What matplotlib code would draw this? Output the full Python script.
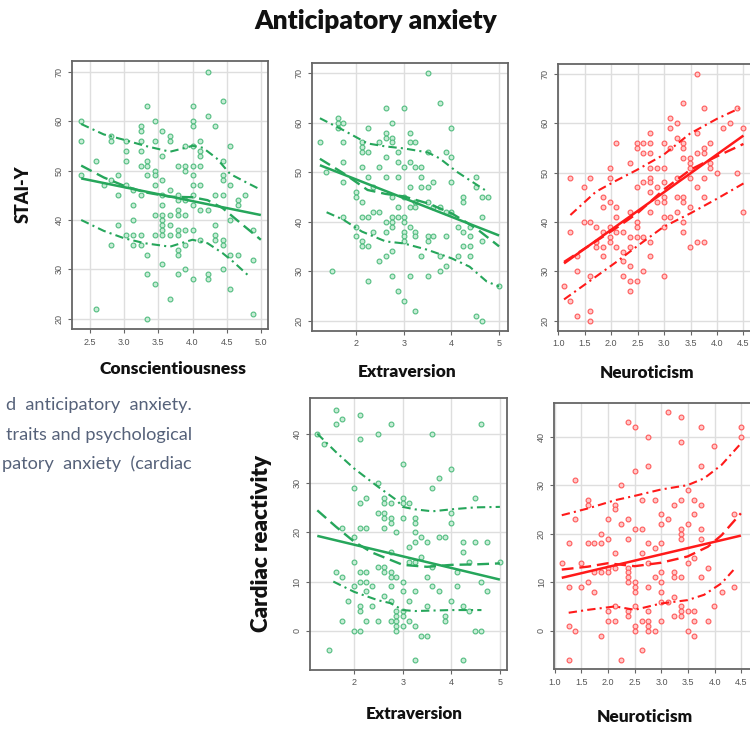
import matplotlib
matplotlib.use("Agg")
import matplotlib.pyplot as plt
import numpy as np

# ---------------- DATA ----------------
# Panel 1: STAI-Y vs Conscientiousness (green)
consc_levels = [2.37, 2.58, 2.70, 2.80, 2.91, 3.02, 3.13, 3.24, 3.34, 3.45, 3.56, 3.67,
                3.78, 3.89, 4.00, 4.11, 4.22, 4.33, 4.44, 4.55, 4.66, 4.77, 4.88]
stai_by_consc = [[60, 56, 49], [52, 22], [47], [57, 56, 48, 35], [49, 45, 39],
                 [56, 54, 52, 47, 37], [46, 43, 40, 37, 35], [59, 58, 56, 54, 51, 45, 37, 35],
                 [63, 52, 51, 49, 33, 29, 20], [60, 56, 50, 49, 47, 41, 37, 27],
                 [58, 53, 48, 45, 43, 41, 40, 39, 38, 37, 31], [57, 56, 46, 41, 39, 37, 24],
                 [51, 45, 44, 42, 41, 38, 37, 34, 33, 29], [55, 51, 50, 44, 41, 38, 35, 30],
                 [63, 60, 59, 55, 51, 49, 47, 45, 43, 38, 28], [56, 54, 53, 51, 47, 42, 36],
                 [70, 61, 42, 29, 28], [59, 45, 39, 37, 36], [64, 52, 49, 48, 45, 36, 35, 30],
                 [55, 47, 40, 33, 26], [44, 43, 33], [45], [38, 32, 21]]
consc_fit_x = [2.37, 5.0]
consc_fit_y = [48.4, 41.0]
consc_mean_x = [2.37, 2.7, 3.0, 3.3, 3.67, 4.0, 4.22, 4.44, 4.7, 5.0]
consc_mean_y = [51.0, 48.6, 46.9, 45.6, 44.7, 44.6, 44.0, 42.4, 39.4, 36.0]
consc_up_x = [2.37, 2.7, 3.0, 3.3, 3.67, 3.9, 4.0, 4.15, 4.35, 4.55, 4.8, 5.0]
consc_up_y = [59.4, 57.3, 56.2, 55.0, 53.8, 54.6, 55.0, 54.6, 52.5, 49.3, 47.5, 46.1]
consc_lo_x = [2.37, 2.7, 3.0, 3.3, 3.67, 3.9, 4.0, 4.22, 4.44, 4.6, 4.83]
consc_lo_y = [40.0, 37.8, 36.3, 35.3, 34.6, 35.6, 36.0, 35.3, 33.3, 31.5, 28.6]

# Panel 2: STAI-Y vs Extraversion (green)
extra_levels = [1.24, 1.36, 1.49, 1.62, 1.73, 2.00, 2.12, 2.24, 2.36, 2.49, 2.62, 2.75,
                2.87, 3.00, 3.12, 3.24, 3.37, 3.50, 3.62, 3.75, 3.88, 4.00, 4.13, 4.25,
                4.38, 4.51, 4.64, 4.76, 5.00]
stai_by_extra = [[56], [50], [30], [61, 60, 59], [60, 56, 52, 48, 41], [46, 45, 39, 37],
                 [56, 55, 54, 51, 44, 41, 36, 35], [59, 54, 49, 41, 35, 28], [47, 42, 38],
                 [56, 51, 42, 32], [63, 58, 57, 53, 49, 40, 38, 33],
                 [60, 57, 56, 45, 41, 40, 39, 34, 29], [54, 52, 49, 43, 41, 26],
                 [63, 51, 45, 41, 40, 38, 37, 36, 24], [58, 56, 52, 47, 43, 39, 29],
                 [56, 51, 44, 43, 38, 37, 22], [51, 49, 47, 33], [70, 54, 47, 44, 37, 36, 29],
                 [48, 43, 37], [64, 43, 33, 30], [54, 42, 37, 31], [59, 53, 48, 42], [39, 33],
                 [45, 44, 38, 35], [39, 37, 35, 33], [49, 47, 21], [45, 41, 36, 20], [45], [27]]
extra_fit_x = [1.24, 5.0]
extra_fit_y = [51.4, 37.2]
extra_mean_x = [1.24, 1.73, 2.24, 2.62, 3.0, 3.5, 4.0, 4.51, 5.0]
extra_mean_y = [52.7, 49.8, 46.4, 45.6, 45.1, 43.7, 41.7, 38.7, 35.0]
extra_up_x = [1.24, 1.73, 2.24, 2.62, 3.0, 3.5, 3.75, 4.11, 4.38, 4.7]
extra_up_y = [60.9, 58.5, 55.8, 55.2, 54.8, 54.0, 52.8, 50.1, 48.4, 46.4]
extra_lo_x = [1.38, 1.73, 2.12, 2.62, 3.0, 3.5, 4.0, 4.38, 4.74, 5.0]
extra_lo_y = [41.9, 40.4, 38.0, 36.0, 35.6, 34.3, 32.6, 30.9, 27.9, 26.9]

# Panel 3: STAI-Y vs Neuroticism (red)
neuro_levels = [1.11, 1.23, 1.35, 1.49, 1.60, 1.72, 1.85, 1.98, 2.10, 2.23, 2.36, 2.48,
                2.61, 2.73, 2.86, 2.99, 3.12, 3.24, 3.36, 3.49, 3.62, 3.75, 3.87, 4.00,
                4.12, 4.25, 4.37, 4.50]
stai_by_neuro = [[27], [49, 38, 24], [33, 30, 21], [47, 40], [49, 40, 29, 22, 20], [39, 36, 35],
                 [45, 43, 38, 35, 33], [51, 49, 44, 39, 37, 36], [56, 43, 41, 38, 35],
                 [38, 34, 32, 29], [52, 42, 37, 35, 31, 28, 26], [56, 55, 47, 40, 39, 37, 28],
                 [56, 54, 48, 37, 30], [58, 56, 54, 51, 49, 48, 46, 42, 36, 33], [51, 47, 44],
                 [56, 51, 48, 45, 44, 41, 39, 29], [61, 59, 55, 41], [60, 57, 49, 45, 42],
                 [64, 56, 55, 53, 45, 44, 40, 38], [53, 52, 51, 49, 43, 35], [70, 58, 54, 47, 36],
                 [63, 55, 54, 49, 45, 36], [56, 52, 51], [50], [59], [60], [63, 50], [59, 42]]
neuro_fit_x = [1.11, 4.5]
neuro_fit_y = [31.6, 57.5]
neuro_mean_x = [1.11, 1.7, 2.1, 2.5, 3.0, 3.5, 4.0, 4.5]
neuro_mean_y = [31.9, 36.0, 38.8, 41.8, 46.6, 50.6, 53.3, 55.8]
neuro_up_x = [1.23, 1.71, 2.1, 2.48, 2.99, 3.49, 4.0, 4.42]
neuro_up_y = [41.4, 46.1, 48.4, 50.5, 53.6, 57.9, 60.9, 63.0]
neuro_lo_x = [1.11, 1.71, 2.1, 2.48, 2.99, 3.49, 4.0, 4.5]
neuro_lo_y = [24.3, 28.9, 31.9, 35.0, 39.0, 41.7, 44.7, 47.8]

# Panel 4: Cardiac reactivity vs Extraversion (green)
extra2_levels = [1.24, 1.38, 1.49, 1.62, 1.74, 1.88, 2.00, 2.12, 2.24, 2.37, 2.49, 2.62,
                 2.75, 2.87, 3.00, 3.12, 3.25, 3.37, 3.50, 3.61, 3.74, 3.87, 3.99, 4.12,
                 4.24, 4.37, 4.49, 4.62, 4.74, 5.00]
card_by_extra = [[40], [38], [-4], [45, 42, 12], [43, 21, 11, 2], [6], [29, 19, 14, 9, 0],
                 [44, 39, 26, 21, 12, 10, 5, 4, 0], [27, 21, 12, 10, 8, 2], [9, 5],
                 [40, 30, 24, 13, 2], [27, 26, 24, 23, 21, 13, 12, 7],
                 [42, 26, 23, 22, 16, 12, 11, 9, 6, 2], [20, 11, 4, 3, 2, 1, 0],
                 [34, 27, 26, 23, 10, 8, 4, 3, 1], [26, 17, 14, 6, 2],
                 [23, 22, 20, 18, 14, 8, 1, -6], [19, 15, -1], [18, 11, 5, -1], [40, 29, 13, 9],
                 [31, 19, 8], [19, 3, 2], [33, 24, 22, 6], [12, 9], [18, 16, 5, -6], [14, 4],
                 [27, 18, 0], [42, 10, 0], [18, 8], [14]]
card_e_fit_x = [1.24, 5.0]
card_e_fit_y = [19.3, 10.4]
card_e_mean_x = [1.24, 1.62, 2.0, 2.37, 2.75, 3.0, 3.5, 4.0, 4.5, 5.0]
card_e_mean_y = [24.5, 21.2, 18.1, 15.9, 14.4, 13.4, 13.0, 13.4, 13.5, 13.7]
card_e_up_x = [1.24, 1.62, 2.0, 2.49, 2.87, 3.0, 3.25, 3.61, 4.0, 4.49, 5.0]
card_e_up_y = [40.1, 36.4, 33.0, 29.3, 26.6, 25.2, 24.7, 24.3, 24.7, 25.1, 25.2]
card_e_lo_x = [1.57, 2.0, 2.49, 2.75, 3.0, 3.25, 3.61, 4.0, 4.62]
card_e_lo_y = [10.0, 7.9, 6.2, 5.6, 4.2, 4.0, 4.1, 4.2, 4.2]

# Panel 5: Cardiac reactivity vs Neuroticism (red)
neuro2_levels = [1.13, 1.26, 1.37, 1.49, 1.62, 1.74, 1.87, 1.99, 2.13, 2.25, 2.37, 2.50,
                 2.63, 2.75, 2.87, 2.99, 3.13, 3.24, 3.36, 3.49, 3.62, 3.74, 3.87, 3.99,
                 4.13, 4.37, 4.49]
card_by_neuro = [[14], [18, 9, 1, -6], [31, 23, 0], [14, 9], [27, 26, 18, 10], [18, 12, 8],
                 [20, 18, 12, -1], [23, 19, 13, 12, 4, 2], [26, 25, 16, 13, 5, 2], [30, 22, -6],
                 [43, 23, 19, 13, 12, 11, 10, 4, 3], [42, 33, 21, 10, 9, 8, 5, 1, 0],
                 [27, 21, 16, 2, -4], [40, 34, 18, 14, 9, 4, 2, 1, 0], [27, 17, 11, 0],
                 [24, 22, 18, 12, 10, 8, 6, 2], [45, 23, 6], [26, 12, 11, 7, 3],
                 [44, 39, 27, 21, 20, 19, 11, 5, 4, 3], [29, 22, 14, 4, 0],
                 [27, 24, 15, 4, 2, -1], [42, 34, 26, 21, 19, 11], [13, 2], [38, 5], [8],
                 [24, 9], [42, 40]]
card_n_fit_x = [1.13, 4.49]
card_n_fit_y = [10.9, 19.6]
card_n_mean_x = [1.13, 1.62, 1.99, 2.5, 2.99, 3.49, 3.87, 4.13, 4.49]
card_n_mean_y = [12.6, 13.2, 13.9, 13.3, 14.0, 15.3, 17.3, 19.7, 24.2]
card_n_up_x = [1.13, 1.62, 2.13, 2.5, 2.99, 3.49, 3.8, 4.13, 4.49]
card_n_up_y = [23.8, 25.2, 26.9, 27.8, 29.1, 30.0, 31.4, 34.2, 38.6]
card_n_lo_x = [1.26, 1.62, 2.13, 2.5, 2.99, 3.49, 3.8, 4.13, 4.35]
card_n_lo_y = [3.7, 4.3, 5.0, 4.3, 5.6, 6.3, 7.4, 9.8, 12.5]

x_ticks_consc = [2.5, 3.0, 3.5, 4.0, 4.5, 5.0]
x_ticks_extra = [2, 3, 4, 5]
x_ticks_neuro = [1.0, 1.5, 2.0, 2.5, 3.0, 3.5, 4.0, 4.5]
y_ticks_stai = [20, 30, 40, 50, 60, 70]
y_ticks_card = [0, 10, 20, 30, 40]

title_text = "Anticipatory anxiety"
caption_lines = ["d  anticipatory  anxiety.", "traits and psychological", "patory  anxiety  (cardiac"]

# ---------------- FIGURE ----------------
W, H = 750, 729
fig = plt.figure(figsize=(W / 100, H / 100), dpi=100)
fig.patch.set_facecolor("white")

GREEN_PT = "#52bd80"
GREEN_FC = "#c8ecd6"
GREEN_LN = "#26a65b"
RED_PT = "#ff5a5a"
RED_FC = "#ffc8c8"
RED_LN = "#ff1a1a"


def px_axes(left, top, right, bottom):
    return fig.add_axes([left / W, 1 - bottom / H, (right - left) / W, (bottom - top) / H])


def flatten(levels, groups):
    xs, ys = [], []
    for lv, g in zip(levels, groups):
        for v in g:
            xs.append(lv)
            ys.append(v)
    return np.array(xs), np.array(ys)


def panel(ax, levels, groups, fit, mean, up, lo, xlim, ylim, xticks, yticks, xfmt, red):
    pt, fc, ln = (RED_PT, RED_FC, RED_LN) if red else (GREEN_PT, GREEN_FC, GREEN_LN)
    ax.set_xlim(*xlim)
    ax.set_ylim(*ylim)
    ax.set_xticks(xticks)
    ax.set_xticklabels([xfmt.format(t) for t in xticks])
    ax.set_yticks(yticks)
    ax.set_yticklabels([str(t) for t in yticks], rotation=90, va="center")
    ax.grid(True, color="#dedede", linewidth=1.0)
    ax.set_axisbelow(True)
    for s in ax.spines.values():
        s.set_color("#666666")
        s.set_linewidth(1.3)
    ax.tick_params(axis="both", length=3, width=0.8, color="#666666",
                   labelsize=6.5, labelcolor="#555555", pad=3)
    xs, ys = flatten(levels, groups)
    ax.scatter(xs, ys, s=12, facecolors=fc, edgecolors=pt, linewidths=0.8, zorder=3)
    ax.plot(fit[0], fit[1], color=ln, lw=1.8, solid_capstyle="butt", zorder=4)
    ax.plot(mean[0], mean[1], color=ln, lw=1.7, dashes=(5, 2.5), zorder=4)
    ax.plot(up[0], up[1], color=ln, lw=1.5, dashes=(4, 2, 1, 2), zorder=4)
    ax.plot(lo[0], lo[1], color=ln, lw=1.5, dashes=(4, 2, 1, 2), zorder=4)
    for lab in ax.get_xticklabels() + ax.get_yticklabels():
        lab.set_family(["Liberation Sans", "DejaVu Sans"])


ax1 = px_axes(72.3, 60.7, 267.7, 329.3)
panel(ax1, consc_levels, stai_by_consc, (consc_fit_x, consc_fit_y), (consc_mean_x, consc_mean_y),
      (consc_up_x, consc_up_y), (consc_lo_x, consc_lo_y), (2.24, 5.10), (17.9, 72.2),
      x_ticks_consc, y_ticks_stai, "{:.1f}", False)

ax2 = px_axes(312.3, 63.3, 507.7, 331.0)
panel(ax2, extra_levels, stai_by_extra, (extra_fit_x, extra_fit_y), (extra_mean_x, extra_mean_y),
      (extra_up_x, extra_up_y), (extra_lo_x, extra_lo_y), (1.08, 5.18), (17.9, 72.0),
      x_ticks_extra, y_ticks_stai, "{:d}", False)

ax3 = px_axes(557.7, 64.0, 753.0, 331.0)
panel(ax3, neuro_levels, stai_by_neuro, (neuro_fit_x, neuro_fit_y), (neuro_mean_x, neuro_mean_y),
      (neuro_up_x, neuro_up_y), (neuro_lo_x, neuro_lo_y), (0.99, 4.68), (17.9, 72.0),
      x_ticks_neuro, y_ticks_stai, "{:.1f}", True)

ax4 = px_axes(310.0, 398.3, 506.7, 670.0)
panel(ax4, extra2_levels, card_by_extra, (card_e_fit_x, card_e_fit_y),
      (card_e_mean_x, card_e_mean_y), (card_e_up_x, card_e_up_y), (card_e_lo_x, card_e_lo_y),
      (1.09, 5.14), (-8.0, 47.3), x_ticks_extra, y_ticks_card, "{:d}", False)

ax5 = px_axes(554.3, 402.7, 751.0, 669.3)
panel(ax5, neuro2_levels, card_by_neuro, (card_n_fit_x, card_n_fit_y),
      (card_n_mean_x, card_n_mean_y), (card_n_up_x, card_n_up_y), (card_n_lo_x, card_n_lo_y),
      (0.99, 4.68), (-7.96, 47.0), x_ticks_neuro, y_ticks_card, "{:.1f}", True)

# ---------------- TEXT ----------------
renderer = fig.canvas.get_renderer()
BOLD = ["Lato", "DejaVu Sans"]


def ftext(x, y, s, target, rotation=0, along="w", **kw):
    t = fig.text(x / W, 1 - y / H, s, rotation=rotation, ha="center", va="center", **kw)
    bb = t.get_window_extent(renderer)
    cur = bb.width if along == "w" else bb.height
    t.set_fontsize(t.get_fontsize() * target / cur)
    return t


ftext(376, 21, title_text, 243, family=BOLD, weight="heavy", color="#111111")
ftext(173.5, 369, "Conscientiousness", 147, family=BOLD, weight="heavy", color="#111111")
ftext(407.5, 372, "Extraversion", 99, family=BOLD, weight="heavy", color="#111111")
ftext(647.5, 373, "Neuroticism", 95, family=BOLD, weight="heavy", color="#111111")
ftext(414, 714, "Extraversion", 98, family=BOLD, weight="heavy", color="#111111")
ftext(645, 717, "Neuroticism", 96, family=BOLD, weight="heavy", color="#111111")
ftext(23.5, 194, "STAI-Y", 58, rotation=90, along="h", family=BOLD, weight="heavy", color="#111111")
ftext(262, 543, "Cardiac reactivity", 177, rotation=90, along="h", family=BOLD, weight="heavy",
      color="#111111")

# caption fragment (cropped at left)
cap_y = [405, 435, 464]
t2 = fig.text(192 / W, 1 - cap_y[1] / H, caption_lines[1], ha="right", va="center",
              family=["Lato", "DejaVu Sans"], color="#56627a")
bb = t2.get_window_extent(renderer)
cap_fs = t2.get_fontsize() * 187 / bb.width
t2.set_fontsize(cap_fs)
for i in (0, 2):
    fig.text(192 / W, 1 - cap_y[i] / H, caption_lines[i], ha="right", va="center",
             family=["Lato", "DejaVu Sans"], color="#56627a", fontsize=cap_fs)

fig.savefig("out.png", dpi=100, facecolor="white")
